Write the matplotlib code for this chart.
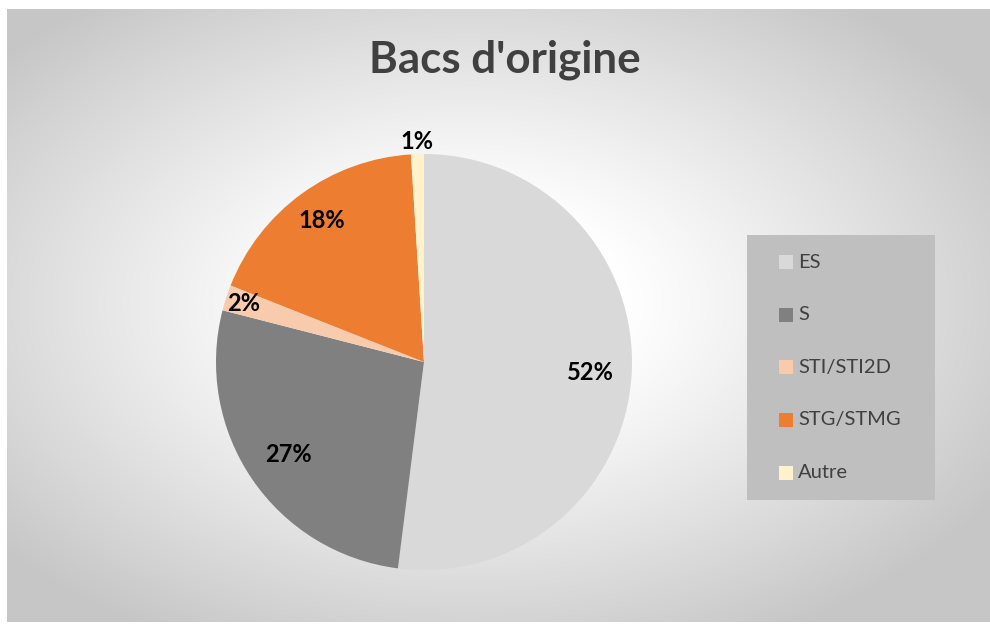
import numpy as np
import matplotlib
matplotlib.use("Agg")
import matplotlib.pyplot as plt
from matplotlib.patches import Rectangle

categories = ["ES", "S", "STI/STI2D", "STG/STMG", "Autre"]
values = [52, 27, 2, 18, 1]
colors = ["#d9d9d9", "#808080", "#f8cbad", "#ed7d31", "#fff2cc"]
label_dist = [0.80, 0.79, 0.91, 0.84, 1.06]
title = "Bacs d'origine"

W, H = 990, 626
fig = plt.figure(figsize=(W / 100, H / 100), dpi=100)
fig.patch.set_facecolor("white")
plt.rcParams['font.family'] = ['Lato', 'DejaVu Sans']

# background with radial gradient
bg = fig.add_axes([7 / W, 4 / H, (W - 7) / W, (H - 13) / H])
bg.set_axis_off()
nx, ny = 400, 260
xx, yy = np.meshgrid(np.linspace(0, 1, nx), np.linspace(0, 1, ny))
cx, cy = 0.47, 0.52
r = np.sqrt(((xx - cx) / 0.62) ** 2 + ((yy - cy) / 0.62) ** 2)
r = np.clip(r, 0, 1)
val = 1.0 - 0.22 * np.clip((r - 0.25) / 0.75, 0, 1) ** 1.1
img = np.dstack([val, val, val])
bg.imshow(img, extent=[0, 1, 0, 1], aspect="auto", origin="lower", interpolation="bilinear")
bg.set_xlim(0, 1)
bg.set_ylim(0, 1)

# title
fig.text(505 / W, 1 - 60 / H, title, ha="center", va="center", fontsize=31.6,
         fontweight="bold", color="#404040")

# pie
cxp, cyp, R = 424, 362, 208
ax = fig.add_axes([(cxp - R) / W, (H - cyp - R) / H, 2 * R / W, 2 * R / H])
wedges, _ = ax.pie(values, colors=colors, startangle=90, counterclock=False,
                   radius=1, wedgeprops=dict(linewidth=0))
ax.set_xlim(-1, 1)
ax.set_ylim(-1, 1)
ax.set_aspect("equal")
ax.set_axis_off()
for w, v, d in zip(wedges, values, label_dist):
    ang = np.deg2rad((w.theta1 + w.theta2) / 2)
    ax.text(d * np.cos(ang), d * np.sin(ang), f"{v}%", ha="center", va="center",
            fontsize=17, fontweight="bold", color="black", clip_on=False)

# legend box
lx0, ly0, lx1, ly1 = 747, 235, 935, 500
fig.patches.append(Rectangle((lx0 / W, 1 - ly1 / H), (lx1 - lx0) / W, (ly1 - ly0) / H,
                             transform=fig.transFigure, facecolor="#bfbfbf",
                             edgecolor="none", zorder=1))
ys = [262, 315, 367, 420, 473]
for cat, col, y in zip(categories, colors, ys):
    fig.patches.append(Rectangle((779 / W, 1 - (y + 7) / H), 14 / W, 14 / H,
                                 transform=fig.transFigure, facecolor=col,
                                 edgecolor="none", zorder=2))
    fig.text(798 / W, 1 - y / H, cat, ha="left", va="center", fontsize=14.5,
             color="#404040", zorder=3)

fig.savefig("out.png", dpi=100)
